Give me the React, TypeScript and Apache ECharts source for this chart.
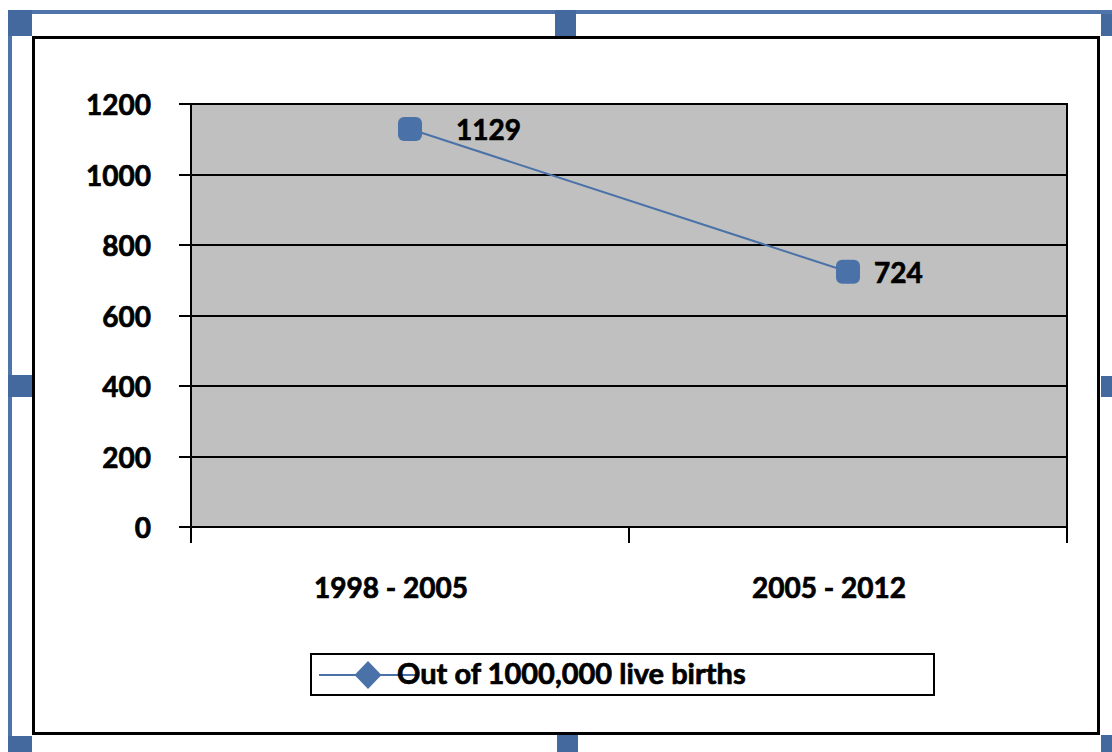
import React, { useEffect, useRef } from "react";
import * as echarts from "echarts";

// Periods on the category axis
const categories = ["1998 - 2005", "2005 - 2012"];
// Ratio per 1000,000 live births
const values = [1129, 724];
// Value axis range
const yMin = 0;
const yMax = 1200;
const yStep = 200;
const seriesName = "Out of 1000,000 live births";

const FONT = "Lato, 'Open Sans', sans-serif";
const BLUE = "#4A72A8";
const HANDLE = "#43699F";
const FRAME = "#4E74AA";

// Heavier bold text: a thin outline in the text colour
const heavy = {
  fontFamily: FONT,
  fontWeight: "bold",
  color: "#000000",
  textBorderColor: "#000000",
  textBorderWidth: 0.7,
};

// Gap between each marker and its value label
const labelGaps = [34, 14];

// Legend glyph: a line with a diamond, sitting a little below the text centre
// (the zero-area sub-paths at the top and bottom fix the glyph's box)
const legendIcon =
  "path://M0,0 L0.01,0 Z M0,36 L0.01,36 Z " +
  "M0,20 L36.5,20 L49,7 L61.5,20 L99,20 L99,22 L61.5,22 L49,35 L36.5,22 L0,22 Z";

function handle(x: number, y: number, w: number, h: number) {
  return {
    type: "rect",
    shape: { x, y, width: w, height: h },
    style: { fill: HANDLE },
    silent: true,
  };
}

export default function App() {
  const ref = useRef<HTMLDivElement>(null);

  useEffect(() => {
    document.body.style.margin = "0";
    if (!ref.current) return;
    const chart = echarts.init(ref.current, undefined, { renderer: "svg" });

    chart.setOption({
      animation: false,
      backgroundColor: "#ffffff",
      grid: {
        left: 191,
        top: 104,
        right: 45,
        bottom: 225,
        show: true,
        backgroundColor: "#C0C0C0",
        borderColor: "#000000",
        borderWidth: 2,
      },
      legend: {
        left: 319,
        top: 654,
        itemWidth: 99,
        itemHeight: 36,
        padding: 0,
        data: [{ name: seriesName, icon: legendIcon }],
        itemStyle: { borderWidth: 0 },
        textStyle: {
          ...heavy,
          fontSize: 29,
          padding: [0, 0, 0, -26],
        },
      },
      xAxis: {
        type: "category",
        data: categories,
        boundaryGap: true,
        axisLine: { show: true, lineStyle: { color: "#000000", width: 2 } },
        axisTick: {
          show: true,
          alignWithLabel: false,
          length: 16,
          lineStyle: { color: "#000000", width: 2 },
        },
        axisLabel: {
          ...heavy,
          margin: 46,
          fontSize: 28,
          padding: [0, 38, 0, 0],
        },
        splitLine: { show: false },
      },
      yAxis: {
        type: "value",
        min: yMin,
        max: yMax,
        interval: yStep,
        axisLine: { show: true, lineStyle: { color: "#000000", width: 2 } },
        axisTick: {
          show: true,
          length: 12,
          lineStyle: { color: "#000000", width: 2 },
        },
        axisLabel: {
          ...heavy,
          margin: 40,
          fontSize: 28,
          formatter: (v: number) => String(v),
        },
        splitLine: { show: true, lineStyle: { color: "#000000", width: 2 } },
      },
      series: [
        {
          name: seriesName,
          type: "line",
          data: values.map((v, i) => ({
            value: v,
            label: { distance: labelGaps[i] },
          })),
          symbol: "roundRect",
          symbolSize: 24,
          itemStyle: { color: BLUE },
          lineStyle: { color: BLUE, width: 2 },
          label: {
            show: true,
            position: "right",
            ...heavy,
            fontSize: 28,
          },
        },
      ],
      graphic: [
        // chart area border
        {
          type: "rect",
          shape: { x: 33.5, y: 37.5, width: 1065, height: 696 },
          style: { fill: "none", stroke: "#000000", lineWidth: 3 },
          silent: true,
        },
        // legend box
        {
          type: "rect",
          shape: { x: 311, y: 654, width: 623, height: 41 },
          style: { fill: "none", stroke: "#000000", lineWidth: 2 },
          silent: true,
        },
        // selection frame
        {
          type: "rect",
          shape: { x: 8, y: 10, width: 1112, height: 4 },
          style: { fill: FRAME },
          silent: true,
        },
        {
          type: "rect",
          shape: { x: 8, y: 10, width: 4, height: 742 },
          style: { fill: FRAME },
          silent: true,
        },
        handle(8, 10, 24, 26),
        handle(555, 10, 21, 26),
        handle(1101, 14, 24, 22),
        handle(8, 375, 24, 22),
        handle(1101, 376, 24, 21),
        handle(8, 736, 24, 24),
        handle(557, 735, 21, 24),
        handle(1101, 735, 24, 24),
      ],
    });

    return () => chart.dispose();
  }, []);

  return <div ref={ref} style={{ width: 1112, height: 752 }} />;
}
